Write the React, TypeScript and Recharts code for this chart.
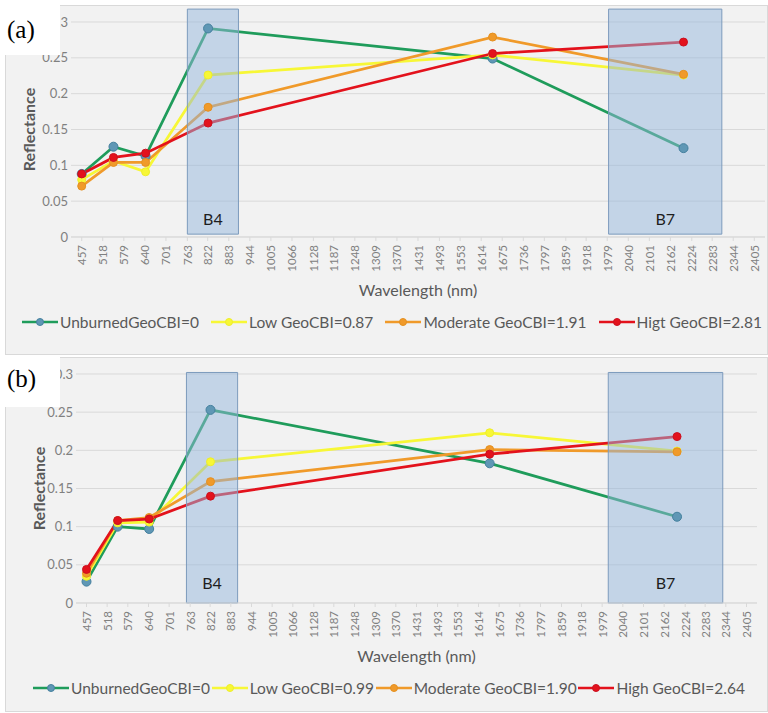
import React from 'react';
import { LineChart, Line, XAxis, YAxis, CartesianGrid, ReferenceArea, Legend, Label } from 'recharts';

const WAVELENGTH_TICKS = [457, 518, 579, 640, 701, 763, 822, 883, 944, 1005, 1066, 1128, 1187, 1248, 1309, 1370, 1431, 1493, 1553, 1614, 1675, 1736, 1797, 1859, 1918, 1979, 2040, 2101, 2162, 2224, 2283, 2344, 2405];
const REFLECTANCE_TICKS = [0, 0.05, 0.1, 0.15, 0.2, 0.25, 0.3];
const SAMPLE_WAVELENGTHS = [457, 549, 642, 823, 1647, 2200];

// panel (a)
const UNBURNED_A = [0.088, 0.126, 0.113, 0.291, 0.249, 0.124];
const LOW_A = [0.08, 0.106, 0.091, 0.226, 0.254, 0.226];
const MODERATE_A = [0.071, 0.104, 0.104, 0.181, 0.279, 0.227];
const HIGH_A = [0.088, 0.111, 0.117, 0.159, 0.256, 0.272];
const LEGEND_A = ['UnburnedGeoCBI=0', 'Low GeoCBI=0.87', 'Moderate GeoCBI=1.91', 'Higt GeoCBI=2.81'];
const BANDS_A = [
  { name: 'B4', from: 763, to: 911 },
  { name: 'B7', from: 1983, to: 2311 },
];

// panel (b)
const UNBURNED_B = [0.028, 0.1, 0.097, 0.253, 0.183, 0.113];
const LOW_B = [0.035, 0.105, 0.106, 0.185, 0.223, 0.199];
const MODERATE_B = [0.039, 0.108, 0.112, 0.159, 0.201, 0.198];
const HIGH_B = [0.044, 0.108, 0.11, 0.14, 0.195, 0.218];
const LEGEND_B = ['UnburnedGeoCBI=0', 'Low GeoCBI=0.99', 'Moderate GeoCBI=1.90', 'High GeoCBI=2.64'];
const BANDS_B = [
  { name: 'B4', from: 752, to: 903 },
  { name: 'B7', from: 1997, to: 2335 },
];

const SERIES = [
  { key: 'unburned', stroke: '#1f9c5b', dotFill: '#5f97b5', dotStroke: '#44809e', r: 4.5 },
  { key: 'low', stroke: '#f7f736', dotFill: '#f7f736', dotStroke: '#eeee2a', r: 4 },
  { key: 'moderate', stroke: '#f09a2a', dotFill: '#f09a2a', dotStroke: '#e59020', r: 4 },
  { key: 'high', stroke: '#e3121c', dotFill: '#e3121c', dotStroke: '#cc1020', r: 4 },
];

const FONT = 'Lato, "Open Sans", sans-serif';

const buildRows = (values: number[][]) =>
  SAMPLE_WAVELENGTHS.map((w, i) => ({
    wavelength: w,
    unburned: values[0][i],
    low: values[1][i],
    moderate: values[2][i],
    high: values[3][i],
  }));

const WavelengthTick = (props: any) => {
  const { x, y, payload } = props;
  return (
    <text
      x={x}
      y={y}
      transform={`rotate(-90, ${x}, ${y})`}
      textAnchor="end"
      dominantBaseline="central"
      fill="#808080"
      fontSize={11.5}
      fontFamily={FONT}
    >
      {payload.value}
    </text>
  );
};

interface PanelProps {
  tag: string;
  values: number[][];
  labels: string[];
  bands: { name: string; from: number; to: number }[];
  top: number;
  height: number;
  marginTop: number;
  marginRight: number;
  yAxisWidth: number;
  xAxisHeight: number;
  titleOffset: number;
  legendHeight: number;
  legendCenter: number;
  legendPad: [number, number];
  yLabelOffset: number;
  bandBottom: number;
  bandTop: number;
  bandLabelOffset: number;
  tagTop: number;
  tagTextTop: number;
}

const Panel: React.FC<PanelProps> = (p) => {
  const rows = buildRows(p.values);

  const renderLegend = (props: any) => {
    const order = (k: string) => SERIES.findIndex((s) => s.key === k);
    const payload = [...(props.payload || [])].sort((a: any, b: any) => order(a.dataKey) - order(b.dataKey));
    return (
      <div
        style={{
          height: p.legendHeight,
          boxSizing: 'border-box',
          paddingTop: p.legendCenter - 10,
          paddingLeft: p.legendPad[0],
          paddingRight: p.legendPad[1],
          display: 'flex',
          justifyContent: 'space-between',
          alignItems: 'flex-start',
          fontFamily: FONT,
          fontSize: 15.5,
          color: '#595959',
        }}
      >
        {payload.map((entry: any) => {
          const s = SERIES.find((x) => x.key === entry.dataKey) || SERIES[0];
          return (
            <div key={entry.dataKey} style={{ display: 'flex', alignItems: 'center', height: 20 }}>
              <svg width={36} height={10} style={{ marginRight: 2 }}>
                <line x1={0} x2={36} y1={5} y2={5} stroke={s.stroke} strokeWidth={2.5} />
                <circle cx={18} cy={5} r={3.5} fill={s.dotFill} stroke={s.dotStroke} />
              </svg>
              <span style={{ whiteSpace: 'nowrap' }}>{entry.value}</span>
            </div>
          );
        })}
      </div>
    );
  };

  return (
    <>
      <div
        style={{
          position: 'absolute',
          left: 5,
          top: p.top,
          width: 763,
          height: p.height,
          background: '#f2f2f2',
          outline: '1px solid #d9d9d9',
          outlineOffset: -1,
        }}
      >
        <LineChart
          width={763}
          height={p.height}
          data={rows}
          margin={{ top: p.marginTop, right: p.marginRight, left: 0, bottom: 0 }}
        >
          <CartesianGrid vertical={false} stroke="#d9d9d9" />
          <XAxis
            dataKey="wavelength"
            type="number"
            domain={[426, 2436]}
            ticks={WAVELENGTH_TICKS}
            interval={0}
            height={p.xAxisHeight}
            stroke="#d9d9d9"
            tickSize={4}
            tickMargin={4}
            tick={<WavelengthTick />}
          >
            <Label
              value="Wavelength (nm)"
              position="insideBottom"
              offset={p.titleOffset}
              fill="#595959"
              fontSize={16}
              fontFamily={FONT}
            />
          </XAxis>
          <YAxis
            type="number"
            domain={[0, 0.3]}
            ticks={REFLECTANCE_TICKS}
            width={p.yAxisWidth}
            axisLine={false}
            tickLine={false}
            tickSize={0}
            tickMargin={3}
            tick={{ fill: '#808080', fontSize: 13, fontFamily: FONT }}
            tickFormatter={(v: number) => String(v)}
          >
            <Label
              value="Reflectance"
              angle={-90}
              position="insideLeft"
              offset={p.yLabelOffset}
              fill="#595959"
              fontSize={16}
              fontWeight="bold"
              fontFamily={FONT}
              style={{ textAnchor: 'middle' }}
            />
          </YAxis>
          {SERIES.map((s, i) => (
            <Line
              key={s.key}
              dataKey={s.key}
              name={p.labels[i]}
              type="linear"
              stroke={s.stroke}
              strokeWidth={2.75}
              dot={{ r: s.r, fill: s.dotFill, stroke: s.dotStroke, strokeWidth: 1 }}
              activeDot={false}
              isAnimationActive={false}
            />
          ))}
          {p.bands.map((b) => (
            <ReferenceArea
              key={b.name}
              x1={b.from}
              x2={b.to}
              y1={p.bandBottom}
              y2={p.bandTop}
              ifOverflow="visible"
              fill="#93b6dc"
              fillOpacity={0.5}
              stroke="#7d9bbd"
              strokeWidth={1}
              zIndex={450}
              label={{
                value: b.name,
                position: 'insideBottom',
                offset: p.bandLabelOffset,
                fill: '#1e1e1e',
                fontSize: 16,
                fontFamily: FONT,
              }}
            />
          ))}
          <Legend verticalAlign="bottom" content={renderLegend} />
        </LineChart>
      </div>
      <div
        style={{
          position: 'absolute',
          left: 0,
          top: p.tagTop,
          width: 60,
          height: 50,
          background: '#ffffff',
          zIndex: 5,
        }}
      >
        <span
          style={{
            position: 'absolute',
            left: 7,
            top: p.tagTextTop,
            fontFamily: '"Liberation Serif", "Times New Roman", serif',
            fontSize: 25,
            lineHeight: 1,
            color: '#000',
          }}
        >
          {p.tag}
        </span>
      </div>
    </>
  );
};

export default function App() {
  return (
    <div style={{ position: 'absolute', left: 0, top: 0, width: 768, height: 713, background: '#fff' }}>
      <Panel
        tag="(a)"
        values={[UNBURNED_A, LOW_A, MODERATE_A, HIGH_A]}
        labels={LEGEND_A}
        bands={BANDS_A}
        top={5}
        height={350}
        marginTop={17}
        marginRight={3}
        yAxisWidth={66}
        xAxisHeight={65}
        titleOffset={6}
        legendHeight={53}
        legendCenter={20}
        legendPad={[17, 3]}
        yLabelOffset={24}
        bandBottom={0.004}
        bandTop={0.318}
        bandLabelOffset={9}
        tagTop={5}
        tagTextTop={11.5}
      />
      <Panel
        tag="(b)"
        values={[UNBURNED_B, LOW_B, MODERATE_B, HIGH_B]}
        labels={LEGEND_B}
        bands={BANDS_B}
        top={357}
        height={355}
        marginTop={17}
        marginRight={11}
        yAxisWidth={71}
        xAxisHeight={60}
        titleOffset={1}
        legendHeight={49}
        legendCenter={25}
        legendPad={[28, 12]}
        yLabelOffset={34}
        bandBottom={0}
        bandTop={0.302}
        bandLabelOffset={14}
        tagTop={357}
        tagTextTop={9}
      />
    </div>
  );
}
